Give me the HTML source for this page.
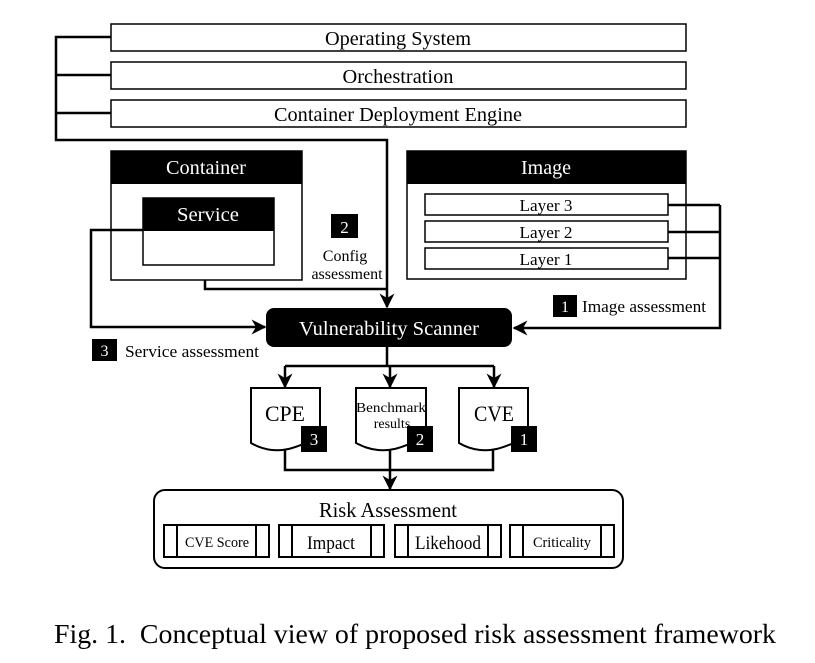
<!DOCTYPE html>
<html><head><meta charset="utf-8"><style>
html,body{margin:0;padding:0;background:#fff}
svg{display:block}
text{font-family:"Liberation Serif",serif;fill:#000}
</style></head><body>
<svg width="815" height="663" viewBox="0 0 815 663" xmlns="http://www.w3.org/2000/svg">
<defs>
<marker id="ah2" viewBox="0 0 10 10" refX="9" refY="5" markerWidth="15" markerHeight="15" markerUnits="userSpaceOnUse" orient="auto">
<path d="M0,0 L10,5 L0,10 L3,5 Z" fill="#000"/>
</marker>
</defs>
<g fill="none" stroke="#000" stroke-width="1.5">
<rect x="111" y="24" width="575" height="27"/>
<rect x="111" y="62" width="575" height="27"/>
<rect x="111" y="100" width="575" height="27"/>
</g>
<g font-size="20" text-anchor="middle">
<text x="398" y="45" textLength="146" lengthAdjust="spacingAndGlyphs">Operating System</text>
<text x="398" y="83" textLength="111" lengthAdjust="spacingAndGlyphs">Orchestration</text>
<text x="398" y="121" textLength="248" lengthAdjust="spacingAndGlyphs">Container Deployment Engine</text>
</g>
<g fill="none" stroke="#000" stroke-width="2.5">
<path d="M111,37 H56 V140 H387 V307" marker-end="url(#ah2)"/>
<path d="M56,75 H111 M56,113 H111"/>
</g>
<!-- Container -->
<rect x="111" y="151" width="191" height="129" fill="#fff" stroke="#000" stroke-width="1.5"/>
<rect x="111" y="151" width="191" height="33" fill="#000"/>
<text x="206" y="174" font-size="20" text-anchor="middle" style="fill:#fff" textLength="80" lengthAdjust="spacingAndGlyphs">Container</text>
<rect x="143" y="198" width="131" height="67" fill="#fff" stroke="#000" stroke-width="1.5"/>
<rect x="143" y="198" width="131" height="33" fill="#000"/>
<text x="208" y="221" font-size="20" text-anchor="middle" style="fill:#fff" textLength="62" lengthAdjust="spacingAndGlyphs">Service</text>
<!-- Image -->
<rect x="407" y="151" width="279" height="128" fill="#fff" stroke="#000" stroke-width="1.5"/>
<rect x="407" y="151" width="279" height="33" fill="#000"/>
<text x="546" y="174" font-size="20" text-anchor="middle" style="fill:#fff" textLength="50" lengthAdjust="spacingAndGlyphs">Image</text>
<g fill="#fff" stroke="#000" stroke-width="1.5">
<rect x="425" y="194" width="243" height="21"/>
<rect x="425" y="221" width="243" height="21"/>
<rect x="425" y="248" width="243" height="21"/>
</g>
<g font-size="17" text-anchor="middle">
<text x="546" y="211" textLength="53" lengthAdjust="spacingAndGlyphs">Layer 3</text>
<text x="546" y="238" textLength="53" lengthAdjust="spacingAndGlyphs">Layer 2</text>
<text x="546" y="265" textLength="53" lengthAdjust="spacingAndGlyphs">Layer 1</text>
</g>
<g fill="none" stroke="#000" stroke-width="2.5">
<path d="M668,205 H720 M668,232 H720 M668,258 H720"/>
<path d="M720,205 V328 H514" marker-end="url(#ah2)"/>
<path d="M205,280 V289 H387"/>
<path d="M143,230 H91 V327 H265" marker-end="url(#ah2)"/>
</g>
<!-- Badges/labels -->
<rect x="331" y="214" width="27" height="24" fill="#000"/>
<text x="344.5" y="233" font-size="17" text-anchor="middle" style="fill:#fff">2</text>
<text x="345" y="261" font-size="16" text-anchor="middle">Config</text>
<text x="347" y="279" font-size="16" text-anchor="middle">assessment</text>
<rect x="553" y="295" width="24" height="22" fill="#000"/>
<text x="565" y="312" font-size="16" text-anchor="middle" style="fill:#fff">1</text>
<text x="582" y="312" font-size="17" textLength="124" lengthAdjust="spacingAndGlyphs">Image assessment</text>
<rect x="92" y="339" width="25" height="22" fill="#000"/>
<text x="104.5" y="356" font-size="16" text-anchor="middle" style="fill:#fff">3</text>
<text x="125" y="357" font-size="17" textLength="134" lengthAdjust="spacingAndGlyphs">Service assessment</text>
<!-- Scanner -->
<rect x="266" y="308" width="246" height="39" rx="8" fill="#000"/>
<text x="389" y="335" font-size="20" text-anchor="middle" style="fill:#fff" textLength="180" lengthAdjust="spacingAndGlyphs">Vulnerability Scanner</text>
<g fill="none" stroke="#000" stroke-width="2.5">
<path d="M387,347 V366 M285,366 H494"/>
<path d="M285,366 V387" marker-end="url(#ah2)"/>
<path d="M390,366 V387" marker-end="url(#ah2)"/>
<path d="M494,366 V387" marker-end="url(#ah2)"/>
<path d="M285,448 V470 H493 V448 M390,448 V470"/>
<path d="M390,470 V489" marker-end="url(#ah2)"/>
</g>
<!-- Docs -->
<g fill="#fff" stroke="#000" stroke-width="2">
<path d="M251,388 H320 V440 C305,440 295,452 272,450 C262,449 256,446 251,443 Z"/>
<path d="M356,388 H426 V440 C411,440 401,452 378,450 C368,449 362,446 356,443 Z"/>
<path d="M459,388 H528 V440 C513,440 503,452 480,450 C470,449 464,446 459,443 Z"/>
</g>
<text x="285" y="421" font-size="22" text-anchor="middle" textLength="40" lengthAdjust="spacingAndGlyphs">CPE</text>
<text x="391" y="412" font-size="14" text-anchor="middle" textLength="70" lengthAdjust="spacingAndGlyphs">Benchmark</text>
<text x="392" y="428" font-size="14" text-anchor="middle">results</text>
<text x="494" y="421" font-size="22" text-anchor="middle" textLength="40" lengthAdjust="spacingAndGlyphs">CVE</text>
<rect x="301" y="426" width="26" height="26" fill="#000"/>
<text x="314" y="445" font-size="17" text-anchor="middle" style="fill:#fff">3</text>
<rect x="407" y="426" width="26" height="26" fill="#000"/>
<text x="420" y="445" font-size="17" text-anchor="middle" style="fill:#fff">2</text>
<rect x="511" y="426" width="26" height="26" fill="#000"/>
<text x="524" y="445" font-size="17" text-anchor="middle" style="fill:#fff">1</text>
<!-- Risk -->
<rect x="154" y="490" width="469" height="78" rx="11" fill="#fff" stroke="#000" stroke-width="2"/>
<text x="388" y="517" font-size="21" text-anchor="middle" textLength="138" lengthAdjust="spacingAndGlyphs">Risk Assessment</text>
<g fill="none" stroke="#000" stroke-width="2">
<rect x="164" y="525" width="105" height="32"/><path d="M177,525 V557 M256,525 V557"/>
<rect x="279" y="525" width="105" height="32"/><path d="M292,525 V557 M371,525 V557"/>
<rect x="395" y="525" width="106" height="32"/><path d="M408,525 V557 M488,525 V557"/>
<rect x="510" y="525" width="104" height="32"/><path d="M523,525 V557 M601,525 V557"/>
</g>
<text x="217" y="547" font-size="15" text-anchor="middle" textLength="64" lengthAdjust="spacingAndGlyphs">CVE Score</text>
<text x="331" y="549" font-size="19" text-anchor="middle" textLength="48" lengthAdjust="spacingAndGlyphs">Impact</text>
<text x="448" y="549" font-size="19" text-anchor="middle" textLength="66" lengthAdjust="spacingAndGlyphs">Likehood</text>
<text x="562" y="547" font-size="15" text-anchor="middle" textLength="58" lengthAdjust="spacingAndGlyphs">Criticality</text>
<text x="54" y="643" font-size="27" textLength="722" lengthAdjust="spacingAndGlyphs" xml:space="preserve">Fig. 1.  Conceptual view of proposed risk assessment framework</text>
</svg>
</body></html>
